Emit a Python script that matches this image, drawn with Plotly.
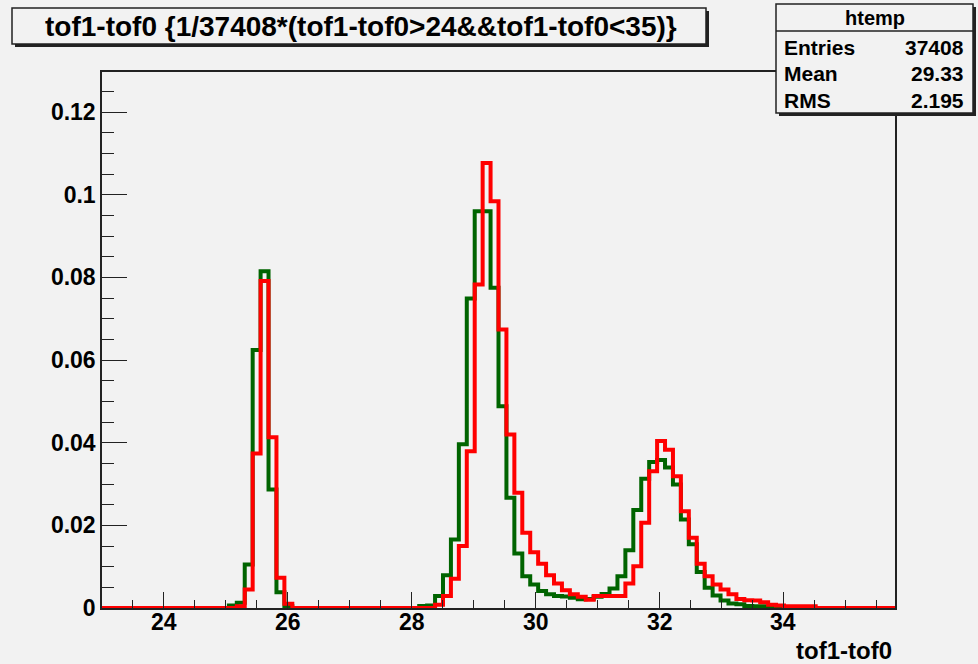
import plotly.graph_objects as go

# ---------------- data ----------------
XMIN = 23.0
XMAX = 35.8
NBINS = 100

green_vals = [0.0] * 16 + [
    0.0006, 0.0013, 0.0105, 0.0624, 0.0815, 0.0287, 0.0038, 0.0004,   # bins 16-23
] + [0.0] * 16 + [
    0.0005, 0.0006, 0.0029, 0.0079, 0.0166, 0.0396, 0.0749, 0.0960,   # bins 40-47
    0.0960, 0.0775, 0.0488, 0.0267, 0.0132, 0.0077, 0.0057, 0.0041,   # bins 48-55
    0.0033, 0.0029, 0.0028, 0.0025, 0.0021, 0.0022, 0.0027, 0.0034,   # bins 56-63
    0.0047, 0.0077, 0.0140, 0.0237, 0.0313, 0.0353, 0.0358, 0.0340,   # bins 64-71
    0.0299, 0.0214, 0.0154, 0.0087, 0.0049, 0.0030, 0.0018, 0.0011,   # bins 72-79
    0.0009, 0.0005, 0.0004, 0.0004, 0.0003, 0.0003, 0.0002, 0.0,      # bins 80-87
] + [0.0] * 12

red_vals = [0.0] * 17 + [
    0.0004, 0.0045, 0.0374, 0.0791, 0.0413, 0.0073, 0.0010,           # bins 17-23
] + [0.0] * 18 + [
    0.0008, 0.0029, 0.0071, 0.0150, 0.0379, 0.0783,                   # bins 42-47
    0.1077, 0.0984, 0.0674, 0.0420, 0.0279, 0.0182, 0.0135, 0.0107,   # bins 48-55
    0.0079, 0.0059, 0.0043, 0.0033, 0.0027, 0.0020, 0.0029, 0.0029,   # bins 56-63
    0.0029, 0.0029, 0.0059, 0.0101, 0.0206, 0.0331, 0.0404, 0.0383,   # bins 64-71
    0.0319, 0.0234, 0.0170, 0.0107, 0.0077, 0.0057, 0.0045, 0.0033,   # bins 72-79
    0.0022, 0.0019, 0.0018, 0.0014, 0.0008, 0.0006, 0.0004, 0.0004,   # bins 80-87
    0.0004, 0.0004,                                                   # bins 88-89
] + [0.0] * 10

x_tickvals = [24, 26, 28, 30, 32, 34]
x_ticktext = ["24", "26", "28", "30", "32", "34"]
y_tickvals = [0, 0.02, 0.04, 0.06, 0.08, 0.1, 0.12]
y_ticktext = ["0", "0.02", "0.04", "0.06", "0.08", "0.1", "0.12"]

title_text = "tof1-tof0 {1/37408*(tof1-tof0>24&&tof1-tof0<35)}"
x_title = "tof1-tof0"
stats_name = "htemp"
stats_labels = ["Entries", "Mean", "RMS"]
stats_values = ["37408", "29.33", "2.195"]

# ---------------- figure ----------------
W, H = 978, 664
ML, MR, MT, MB = 102, 83, 72, 56
PW = W - ML - MR
PH = H - MT - MB
BG = "#f2f2f2"
FONT = "Liberation Sans, Arial, Helvetica, sans-serif"


def px(xp):
    return (xp - ML) / PW


def py(yp):
    return (H - MB - yp) / PH


bw = (XMAX - XMIN) / NBINS
edges = [XMIN + i * bw for i in range(NBINS + 1)]

fig = go.Figure()
fig.add_trace(go.Scatter(x=edges, y=green_vals + [green_vals[-1]], mode="lines",
                         line=dict(color="#006400", width=4, shape="hv"),
                         showlegend=False, hoverinfo="skip"))
fig.add_trace(go.Scatter(x=edges, y=red_vals + [red_vals[-1]], mode="lines",
                         line=dict(color="#ff0000", width=4, shape="hv"),
                         showlegend=False, hoverinfo="skip"))

tickfont = dict(family=FONT, size=23, color="black", weight="bold")
fig.update_xaxes(range=[XMIN, XMAX], tickvals=x_tickvals, ticktext=x_ticktext,
                 showticklabels=False,
                 ticks="inside", ticklen=16, tickwidth=1.3, tickcolor="#222",
                 minor=dict(dtick=0.5, tick0=0, ticks="inside", ticklen=8, tickwidth=1.3, tickcolor="#222"),
                 showline=True, mirror=True, linecolor="#222", linewidth=1.5,
                 showgrid=False, zeroline=False, tickfont=tickfont)
fig.update_yaxes(range=[0, 0.1297], tickvals=y_tickvals, ticktext=y_ticktext,
                 ticks="inside", ticklen=25, tickwidth=1.3, tickcolor="#222",
                 minor=dict(dtick=0.005, tick0=0, ticks="inside", ticklen=12, tickwidth=1.3, tickcolor="#222"),
                 showline=True, mirror=True, linecolor="#222", linewidth=1.5,
                 showgrid=False, zeroline=False, tickfont=tickfont)

shapes = []
annotations = []

# x tick labels placed on the x axis scale
for tv, tt in zip(x_tickvals, x_ticktext):
    annotations.append(dict(text=tt, xref="x", yref="paper", x=tv, y=py(622),
                            xanchor="center", yanchor="middle", showarrow=False,
                            font=tickfont))

# title box with shadow
tb = (12, 8, 706, 44)
shapes.append(dict(type="rect", xref="paper", yref="paper",
                   x0=px(tb[0] + 3), x1=px(tb[2] + 3), y0=py(tb[3] + 3), y1=py(tb[1] + 3),
                   fillcolor="#222", line=dict(width=0), layer="above"))
shapes.append(dict(type="rect", xref="paper", yref="paper",
                   x0=px(tb[0]), x1=px(tb[2]), y0=py(tb[3]), y1=py(tb[1]),
                   fillcolor=BG, line=dict(color="#222", width=1.5), layer="above"))
annotations.append(dict(text=title_text, xref="paper", yref="paper",
                        x=px((tb[0] + tb[2]) / 2 + 2), y=py((tb[1] + tb[3]) / 2),
                        xanchor="center", yanchor="middle", showarrow=False,
                        font=dict(family=FONT, size=28, color="black", weight="bold")))

# stats box with shadow
sb = (776, 4, 973, 113)
shapes.append(dict(type="rect", xref="paper", yref="paper",
                   x0=px(sb[0] + 3), x1=px(sb[2] + 3), y0=py(sb[3] + 3), y1=py(sb[1] + 3),
                   fillcolor="#222", line=dict(width=0), layer="above"))
shapes.append(dict(type="rect", xref="paper", yref="paper",
                   x0=px(sb[0]), x1=px(sb[2]), y0=py(sb[3]), y1=py(sb[1]),
                   fillcolor=BG, line=dict(color="#222", width=1.5), layer="above"))
shapes.append(dict(type="line", xref="paper", yref="paper",
                   x0=px(sb[0]), x1=px(sb[2]), y0=py(31), y1=py(31),
                   line=dict(color="#222", width=1.5), layer="above"))
annotations.append(dict(text=stats_name, xref="paper", yref="paper",
                        x=px((sb[0] + sb[2]) / 2), y=py(18), xanchor="center", yanchor="middle",
                        showarrow=False, font=dict(family=FONT, size=20, color="black", weight="bold")))
row_y = [47, 74, 100]
for lab, val, ry in zip(stats_labels, stats_values, row_y):
    annotations.append(dict(text=lab, xref="paper", yref="paper", x=px(782), y=py(ry),
                            xanchor="left", yanchor="middle", showarrow=False,
                            font=dict(family=FONT, size=21, color="black", weight="bold")))
    annotations.append(dict(text=val, xref="paper", yref="paper", x=px(966), y=py(ry),
                            xanchor="right", yanchor="middle", showarrow=False,
                            font=dict(family=FONT, size=21, color="black", weight="bold")))

# x axis title
annotations.append(dict(text=x_title, xref="paper", yref="paper", x=px(894), y=py(650),
                        xanchor="right", yanchor="middle", showarrow=False,
                        font=dict(family=FONT, size=24, color="black", weight="bold")))

fig.update_layout(width=W, height=H, margin=dict(l=ML, r=MR, t=MT, b=MB),
                  paper_bgcolor=BG, plot_bgcolor=BG,
                  shapes=shapes, annotations=annotations, showlegend=False)

fig.write_html("out.html")
